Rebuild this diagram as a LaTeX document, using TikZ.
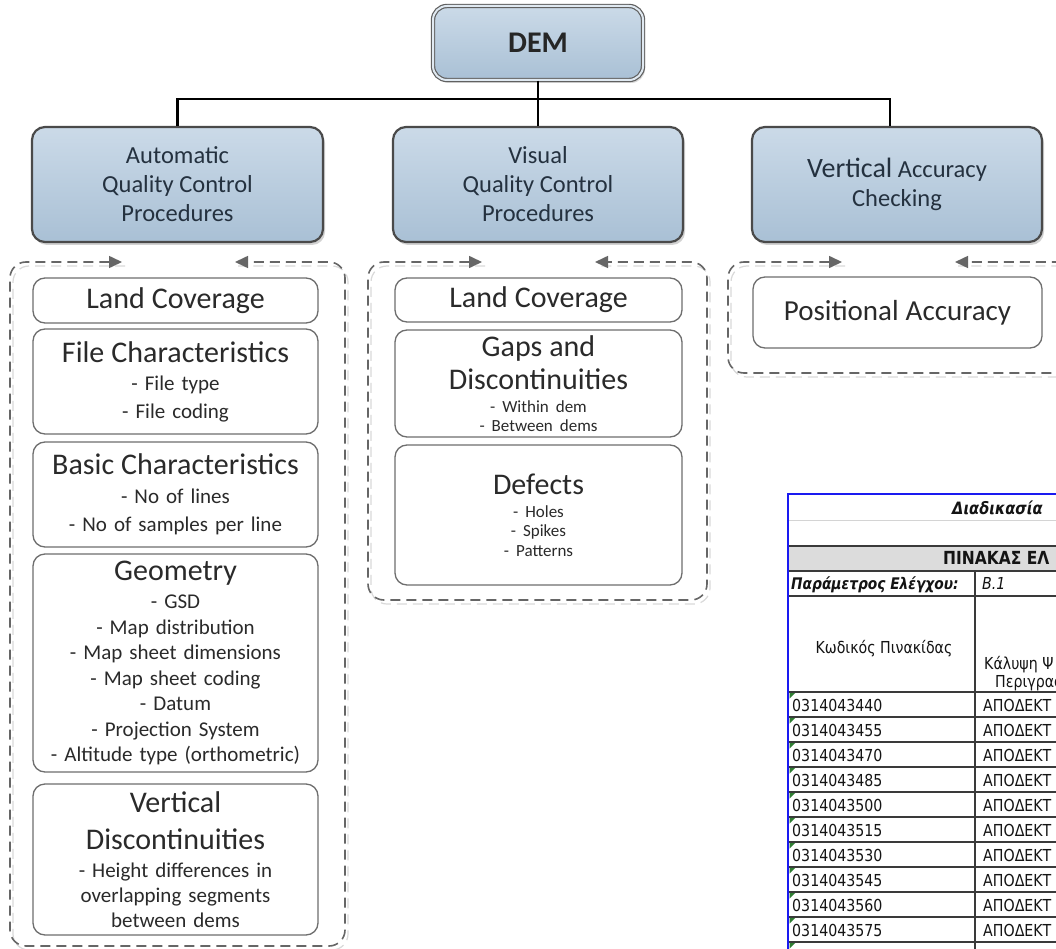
\documentclass[tikz,border=0pt]{standalone}
\usepackage{fontspec}
\setmainfont{Carlito}
\newfontfamily\tabfont[FakeStretch=0.86]{DejaVu Sans}
\usetikzlibrary{arrows.meta,shadows}

\definecolor{catfillA}{HTML}{CBDAE8}
\definecolor{catfillB}{HTML}{A9C0D5}
\definecolor{catline}{HTML}{4A4A4A}
\definecolor{catink}{HTML}{24313F}
\definecolor{boxline}{HTML}{6E6E6E}
\definecolor{ink}{HTML}{2A2A2A}
\definecolor{dashline}{HTML}{666666}
\definecolor{ghost}{HTML}{D9D9D9}
\definecolor{tblblue}{HTML}{1A1AF0}
\definecolor{tblrule}{HTML}{3A3A3A}
\definecolor{tblsoft}{HTML}{D4D4D4}
\definecolor{tblhead}{HTML}{DCDCDC}
\definecolor{tblmark}{HTML}{2E7D32}

% title line and item lines inside the white boxes
\newcommand\qtitle[1]{{\fontsize{30}{36}\selectfont #1\par}}
\newcommand\qsub[2]{{\fontsize{21}{#1}\selectfont #2\par}}
\newcommand\qsubv[2]{{\fontsize{17}{#1}\selectfont #2\par}}

% dashed loop frame with two inward arrows on its top edge
% #1 left, #2 top, #3 right, #4 bottom, #5 left tip, #6 right tip
\newcommand\qcframe[6]{%
  \draw[frameghost] (#5+3,#2+4) -- (#1+3,#2+4) -- (#1+3,#4+4) -- (#3+3,#4+4) -- (#3+3,#2+4) -- (#6+3,#2+4);
  \draw[frame] (#5,#2) -- (#1,#2) -- (#1,#4) -- (#3,#4) -- (#3,#2) -- (#6,#2);
}

\tikzset{
  rootbox/.style={draw=gray!75!black, line width=1.2pt, double=catfillA!60!white, double distance=2pt,
    rounded corners=14pt, top color=catfillA, bottom color=catfillB,
    drop shadow={shadow xshift=2pt, shadow yshift=-3pt, opacity=0.3},
    font=\bfseries\fontsize{30}{34}\selectfont, text=black!85, inner sep=0pt},
  catbox/.style={draw=catline, line width=2.2pt, rounded corners=13pt,
    top color=catfillA, bottom color=catfillB,
    drop shadow={shadow xshift=2pt, shadow yshift=-3pt, opacity=0.35},
    align=center, text=catink, inner sep=0pt, font=\fontsize{24.5}{29}\selectfont},
  itembox/.style={draw=boxline, line width=1.3pt, rounded corners=12pt, fill=white,
    text=ink, align=center, text width=282pt, inner sep=0pt, font=\fontsize{21}{28}\selectfont},
  conn/.style={draw=black, line width=2.8pt},
  frame/.style={draw=dashline, line width=1.6pt, dash pattern=on 10pt off 6pt, rounded corners=16pt,
    {Triangle[length=13pt,width=12pt]}-{Triangle[length=13pt,width=12pt]}},
  frameghost/.style={draw=ghost, line width=1.2pt, dash pattern=on 10pt off 6pt, rounded corners=16pt},
  tabcell/.style={font=\tabfont\fontsize{16.5}{19}\selectfont, text=black!92, inner sep=0pt},
  tabrule/.style={draw=tblrule, line width=1.3pt},
}

\begin{document}
\begin{tikzpicture}[x=1pt,y=-1pt]
\useasboundingbox (0,0) rectangle (1056,949);
\clip (0,0) rectangle (1056,949);
\fill[white] (0,0) rectangle (1056,949);

% ---------- frames around the check lists ----------
\qcframe{10}{262}{345}{946}{122}{235}
\qcframe{368}{262}{707}{600}{482}{595}
\qcframe{728}{262}{1075}{373}{842}{955}

% ---------- hierarchy ----------
\node[rootbox, minimum width=210pt, minimum height=74pt] (dem) at (538,43) {DEM};

\node[catbox, minimum width=291pt, minimum height=115pt] (auto) at (177.5,184.5)
  {Automatic\\Quality Control\\Procedures};
\node[catbox, minimum width=290pt, minimum height=115pt] (visual) at (538,184.5)
  {Visual\\Quality Control\\Procedures};
\node[catbox, minimum width=290pt, minimum height=115pt] (vert) at (897,184.5)
  {{\fontsize{28}{30}\selectfont Vertical} Accuracy\\Checking};

\coordinate (bus) at (538,99);
\draw[conn] (dem.south) -- (visual.north);
\draw[conn] (auto.north) |- (bus) -| ([xshift=-7pt]vert.north);

% ---------- automatic checks ----------
\node[itembox, minimum width=285pt, minimum height=45pt] (alc) at (175.5,300.5)
  {\qtitle{Land Coverage}};
\node[itembox, minimum width=285pt, minimum height=105pt] (afc) at (175.5,381.5)
  {\qtitle{File Characteristics}\qsub{28}{- File type\par - File coding}};
\node[itembox, minimum width=285pt, minimum height=105pt] (abc) at (175.5,494.5)
  {\qtitle{Basic Characteristics}\qsub{28.5}{- No of lines\par - No of samples per line}};
\node[itembox, minimum width=285pt, minimum height=218pt] (ageo) at (175.5,663)
  {\qtitle{Geometry}\qsub{28}{- GSD}\qsub{25.5}{- Map distribution\par - Map sheet dimensions\par
   - Map sheet coding\par - Datum\par - Projection System\par - Altitude type (orthometric)}};
\node[itembox, minimum width=285pt, minimum height=151pt] (avd) at (175.5,859.5)
  {{\fontsize{30}{37}\selectfont Vertical\par Discontinuities\par}\qsub{28}{- Height differences in}%
   \qsub{25}{overlapping segments\par between dems}};

% ---------- visual checks ----------
\node[itembox, minimum width=287pt, minimum height=44pt] (vlc) at (538.5,300)
  {\qtitle{Land Coverage}};
\node[itembox, minimum width=287pt, minimum height=107pt] (vgd) at (538.5,383.5)
  {{\fontsize{30}{33}\selectfont Gaps and\par Discontinuities\par}\qsubv{23}{- Within dem}\qsubv{19.5}{- Between dems}};
\node[itembox, minimum width=287pt, minimum height=140pt] (vdef) at (538.5,515)
  {\qtitle{Defects}\qsubv{23}{- Holes}\qsubv{19.5}{- Spikes\par - Patterns}};

% ---------- vertical accuracy ----------
\node[itembox, minimum width=289pt, minimum height=71pt] (pacc) at (897.5,312.5)
  {{\fontsize{29}{34}\selectfont Positional Accuracy\par}};

% ---------- control sheet ----------
\fill[tblhead] (789,546) rectangle (1056,571);
\draw[tblsoft, line width=1pt] (789,520) -- (1056,520);
\draw[tabrule] (789,546) -- (1056,546);
\draw[tabrule] (789,571) -- (1056,571);
\draw[tabrule] (789,596) -- (1056,596);
\foreach \y in {692,717,...,942} \draw[tabrule] (789,\y) -- (1056,\y);
\draw[tabrule] (975,571) -- (975,949);
\draw[tblblue, line width=2.2pt] (788,949) -- (788,494) -- (1056,494);

\node[tabcell, anchor=base west, font=\tabfont\bfseries\itshape\fontsize{17}{20}\selectfont] (proc) at (952,514) {Διαδικασία};
\node[tabcell, anchor=base west, font=\tabfont\bfseries\fontsize{18}{21}\selectfont] (sheet) at (943,564) {ΠΙΝΑΚΑΣ ΕΛ};
\node[tabcell, anchor=base west, font=\tabfont\bfseries\itshape\fontsize{16}{19}\selectfont] (param) at (791,589) {Παράμετρος Ελέγχου:};
\node[tabcell, anchor=base west, font=\tabfont\itshape\fontsize{16.5}{19}\selectfont] (pval) at (982,589) {B.1};
\node[tabcell, anchor=base] (hcode) at (884,653) {Κωδικός Πινακίδας};
\node[tabcell, anchor=base west] (hcov) at (984,669) {Κάλυψη Ψ};
\node[tabcell, anchor=base west] (hdesc) at (995,687) {Περιγραφ};

\foreach \code [count=\i from 0] in {0314043440,0314043455,0314043470,0314043485,0314043500,
                                     0314043515,0314043530,0314043545,0314043560,0314043575} {
  \node[tabcell, anchor=base west] (id\i) at (792,711+25*\i) {\code};
  \node[tabcell, anchor=base west] (st\i) at (983,711+25*\i) {ΑΠΟΔΕΚΤ};
  \fill[tblmark] (789.5,693+25*\i) -- ++(5.5,0) -- ++(-5.5,5.5) -- cycle;
}
\fill[tblmark] (789.5,943) -- ++(5.5,0) -- ++(-5.5,5.5) -- cycle;
\end{tikzpicture}
\end{document}
